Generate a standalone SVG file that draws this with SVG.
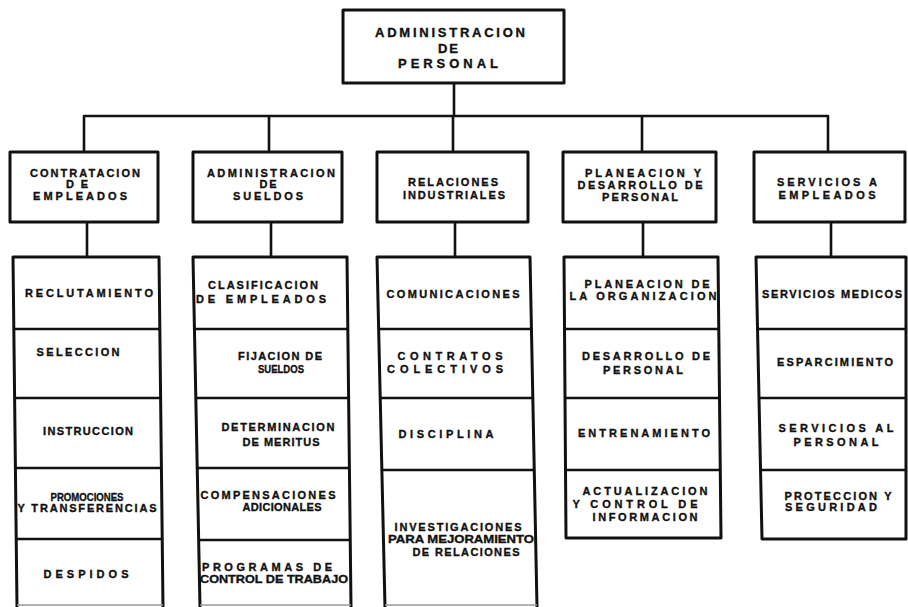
<svg xmlns="http://www.w3.org/2000/svg" width="908" height="607" viewBox="0 0 908 607">
  <style>
    .box { fill: #ffffff; stroke: #111111; stroke-width: 3; stroke-linejoin: round; }
    .div { stroke: #111111; stroke-width: 2.6; fill: none; }
    .link { stroke: #111111; stroke-width: 2.6; fill: none; stroke-linejoin: round; }
    .cut { stroke: #9a9a9a; stroke-width: 1.5; }
    text { font-family: "Liberation Sans", Arial, sans-serif; font-weight: bold; fill: #111111; stroke: #111111; stroke-width: 0.35; text-anchor: middle; }
    .top { font-size: 13px; }
    .hd { font-size: 11px; }
    .it { font-size: 11px; }
  </style>

  <rect width="908" height="607" fill="#ffffff"/>

  <!-- connectors -->
  <g id="connectors">
    <line class="link" x1="454" y1="83" x2="454" y2="116"/>
    <path class="link" d="M84,152 V116 H828 V152"/>
    <line class="link" x1="269" y1="116" x2="269" y2="152"/>
    <line class="link" x1="453" y1="116" x2="453" y2="152"/>
    <line class="link" x1="642" y1="116" x2="642" y2="152"/>
    <line class="link" x1="87" y1="222" x2="87" y2="257"/>
    <line class="link" x1="271" y1="222" x2="271" y2="257"/>
    <line class="link" x1="455" y1="222" x2="455" y2="257"/>
    <line class="link" x1="643" y1="222" x2="643" y2="257"/>
    <line class="link" x1="831" y1="222" x2="831" y2="257"/>
  </g>

  <!-- root -->
  <g id="administracion-de-personal">
    <rect class="box" x="343" y="10" width="221" height="73"/>
    <text class="top" x="450" y="37" textLength="150" lengthAdjust="spacing">ADMINISTRACION</text>
    <text class="top" x="448" y="53" textLength="20" lengthAdjust="spacing">DE</text>
    <text class="top" x="448" y="68" textLength="100" lengthAdjust="spacing">PERSONAL</text>
  </g>

  <!-- department headers -->
  <g id="contratacion-de-empleados">
    <rect class="box" x="10" y="152" width="148" height="70"/>
    <text class="hd" x="85" y="177" textLength="110" lengthAdjust="spacing">CONTRATACION</text>
    <text class="hd" x="77" y="188" textLength="22" lengthAdjust="spacing">DE</text>
    <text class="hd" x="80" y="200" textLength="94" lengthAdjust="spacing">EMPLEADOS</text>
  </g>
  <g id="administracion-de-sueldos">
    <rect class="box" x="193" y="152" width="149" height="70"/>
    <text class="hd" x="271" y="177" textLength="128" lengthAdjust="spacing">ADMINISTRACION</text>
    <text class="hd" x="268" y="188" textLength="17" lengthAdjust="spacing">DE</text>
    <text class="hd" x="268" y="200" textLength="70" lengthAdjust="spacing">SUELDOS</text>
  </g>
  <g id="relaciones-industriales">
    <rect class="box" x="377" y="152" width="151" height="70"/>
    <text class="hd" x="453" y="186" textLength="90" lengthAdjust="spacing">RELACIONES</text>
    <text class="hd" x="454" y="199" textLength="102" lengthAdjust="spacing">INDUSTRIALES</text>
  </g>
  <g id="planeacion-y-desarrollo">
    <rect class="box" x="563" y="152" width="153" height="70"/>
    <text class="hd" x="643" y="177" textLength="116" lengthAdjust="spacing">PLANEACION Y</text>
    <text class="hd" x="640" y="189" textLength="125" lengthAdjust="spacing">DESARROLLO DE</text>
    <text class="hd" x="640" y="201" textLength="76" lengthAdjust="spacing">PERSONAL</text>
  </g>
  <g id="servicios-a-empleados">
    <rect class="box" x="754" y="152" width="151" height="70"/>
    <text class="hd" x="827" y="186" textLength="100" lengthAdjust="spacing">SERVICIOS A</text>
    <text class="hd" x="827" y="199" textLength="97" lengthAdjust="spacing">EMPLEADOS</text>
  </g>

  <!-- function lists -->
  <g id="lista-contratacion">
    <path class="box" d="M17,607 L13,257 H159 L163,607"/>
    <line class="cut" x1="17" y1="605" x2="163" y2="605"/>
    <line class="div" x1="14" y1="329" x2="160" y2="329"/>
    <line class="div" x1="15" y1="398" x2="161" y2="398"/>
    <line class="div" x1="15" y1="468" x2="162" y2="468"/>
    <line class="div" x1="16" y1="539" x2="163" y2="539"/>
    <text class="it" x="89" y="297" textLength="128" lengthAdjust="spacing">RECLUTAMIENTO</text>
    <text class="it" x="78" y="356" textLength="83" lengthAdjust="spacing">SELECCION</text>
    <text class="it" x="88" y="435" textLength="90" lengthAdjust="spacing">INSTRUCCION</text>
    <text class="it" x="87" y="501" textLength="73" lengthAdjust="spacingAndGlyphs">PROMOCIONES</text>
    <text class="it" x="87" y="512" textLength="139" lengthAdjust="spacing">Y TRANSFERENCIAS</text>
    <text class="it" x="86" y="578" textLength="85" lengthAdjust="spacing">DESPIDOS</text>
  </g>

  <g id="lista-sueldos">
    <path class="box" d="M200,607 L193,257 H347 L351,607"/>
    <line class="cut" x1="200" y1="605" x2="351" y2="605"/>
    <line class="div" x1="194" y1="329" x2="348" y2="329"/>
    <line class="div" x1="195" y1="398" x2="349" y2="398"/>
    <line class="div" x1="197" y1="468" x2="350" y2="468"/>
    <line class="div" x1="198" y1="540" x2="350" y2="540"/>
    <text class="it" x="263" y="289" textLength="110" lengthAdjust="spacing">CLASIFICACION</text>
    <text class="it" x="261" y="303" textLength="130" lengthAdjust="spacing">DE EMPLEADOS</text>
    <text class="it" x="280" y="360" textLength="84" lengthAdjust="spacing">FIJACION DE</text>
    <text class="it" x="281" y="373" textLength="46" lengthAdjust="spacingAndGlyphs">SUELDOS</text>
    <text class="it" x="278" y="431" textLength="113" lengthAdjust="spacing">DETERMINACION</text>
    <text class="it" x="281" y="446" textLength="77" lengthAdjust="spacing">DE MERITUS</text>
    <text class="it" x="268" y="499" textLength="135" lengthAdjust="spacing">COMPENSACIONES</text>
    <text class="it" x="282" y="511" textLength="79" lengthAdjust="spacing">ADICIONALES</text>
    <text class="it" x="267" y="571" textLength="130" lengthAdjust="spacing">PROGRAMAS DE</text>
    <text class="it" x="274" y="583" textLength="148" lengthAdjust="spacingAndGlyphs">CONTROL DE TRABAJO</text>
  </g>

  <g id="lista-relaciones">
    <path class="box" d="M385,607 L377,257 H530 L537,607"/>
    <line class="cut" x1="385" y1="605" x2="537" y2="605"/>
    <line class="div" x1="378" y1="329" x2="531" y2="329"/>
    <line class="div" x1="380" y1="398" x2="533" y2="398"/>
    <line class="div" x1="381" y1="470" x2="534" y2="470"/>
    <text class="it" x="453" y="298" textLength="133" lengthAdjust="spacing">COMUNICACIONES</text>
    <text class="it" x="450" y="360" textLength="105" lengthAdjust="spacing">CONTRATOS</text>
    <text class="it" x="445" y="373" textLength="116" lengthAdjust="spacing">COLECTIVOS</text>
    <text class="it" x="446" y="438" textLength="95" lengthAdjust="spacing">DISCIPLINA</text>
    <text class="it" x="458" y="531" textLength="127" lengthAdjust="spacing">INVESTIGACIONES</text>
    <text class="it" x="461" y="543" textLength="146" lengthAdjust="spacingAndGlyphs">PARA MEJORAMIENTO</text>
    <text class="it" x="466" y="556" textLength="107" lengthAdjust="spacing">DE RELACIONES</text>
  </g>

  <g id="lista-planeacion">
    <path class="box" d="M564,257 H718 L721,538 H566 Z"/>
    <line class="div" x1="565" y1="329" x2="719" y2="329"/>
    <line class="div" x1="565" y1="398" x2="719" y2="398"/>
    <line class="div" x1="565" y1="470" x2="720" y2="470"/>
    <text class="it" x="647" y="288" textLength="125" lengthAdjust="spacing">PLANEACION DE</text>
    <text class="it" x="643" y="300" textLength="147" lengthAdjust="spacing">LA ORGANIZACION</text>
    <text class="it" x="646" y="360" textLength="128" lengthAdjust="spacing">DESARROLLO DE</text>
    <text class="it" x="643" y="374" textLength="80" lengthAdjust="spacing">PERSONAL</text>
    <text class="it" x="644" y="437" textLength="132" lengthAdjust="spacing">ENTRENAMIENTO</text>
    <text class="it" x="645" y="495" textLength="125" lengthAdjust="spacing">ACTUALIZACION</text>
    <text class="it" x="635" y="508" textLength="125" lengthAdjust="spacing">Y CONTROL DE</text>
    <text class="it" x="645" y="521" textLength="105" lengthAdjust="spacing">INFORMACION</text>
  </g>

  <g id="lista-servicios">
    <path class="box" d="M756,257 H906 L906,539 H762 Z"/>
    <line class="div" x1="757" y1="329" x2="906" y2="329"/>
    <line class="div" x1="759" y1="398" x2="906" y2="398"/>
    <line class="div" x1="760" y1="470" x2="906" y2="470"/>
    <text class="it" x="832" y="298" textLength="140" lengthAdjust="spacing">SERVICIOS MEDICOS</text>
    <text class="it" x="835" y="366" textLength="116" lengthAdjust="spacing">ESPARCIMIENTO</text>
    <text class="it" x="836" y="432" textLength="115" lengthAdjust="spacing">SERVICIOS AL</text>
    <text class="it" x="836" y="446" textLength="85" lengthAdjust="spacing">PERSONAL</text>
    <text class="it" x="838" y="500" textLength="107" lengthAdjust="spacing">PROTECCION Y</text>
    <text class="it" x="831" y="511" textLength="92" lengthAdjust="spacing">SEGURIDAD</text>
  </g>
</svg>
